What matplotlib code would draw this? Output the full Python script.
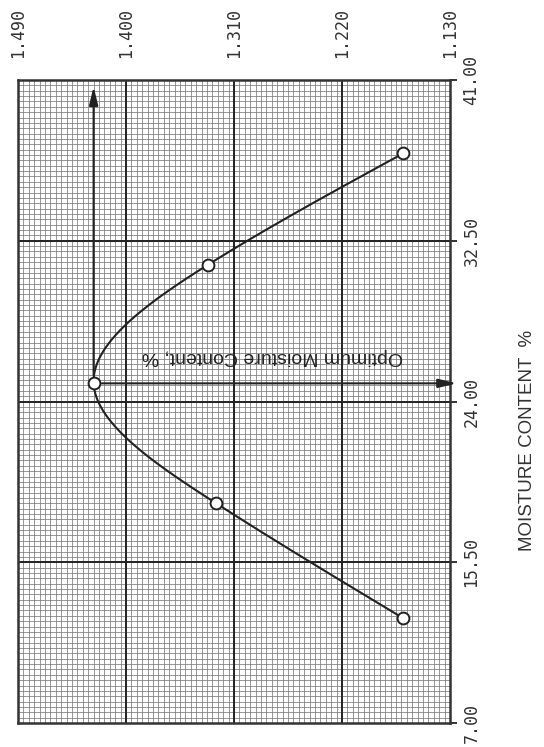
"""
Compaction curve: dry density vs moisture content, drawn in the rotated
layout of the original sheet (moisture running up, density across the top).
"""

import numpy as np
import matplotlib
matplotlib.use("Agg")
import matplotlib.pyplot as plt

# ── Data ──────────────────────────────────────────────────────────────────────

moisture = [12.54, 18.62, 24.96, 31.22, 37.12]      # %
density  = [1.169, 1.325, 1.427, 1.332, 1.169]      # dry density

density_ticks  = [1.490, 1.400, 1.310, 1.220, 1.130]
moisture_ticks = [7.00, 15.50, 24.00, 32.50, 41.00]

optimum_label = "Optimum Moisture Content, %"
axis_label    = "MOISTURE CONTENT  %"


# ── Natural cubic spline through the measured points ─────────────────────────

def natural_spline(x, y, xs):
    x, y = np.asarray(x, float), np.asarray(y, float)
    n = len(x)
    h = np.diff(x)
    A = np.zeros((n, n))
    b = np.zeros(n)
    A[0, 0] = A[-1, -1] = 1.0
    for i in range(1, n - 1):
        A[i, i - 1] = h[i - 1]
        A[i, i]     = 2 * (h[i - 1] + h[i])
        A[i, i + 1] = h[i]
        b[i] = 6 * ((y[i + 1] - y[i]) / h[i] - (y[i] - y[i - 1]) / h[i - 1])
    M = np.linalg.solve(A, b)
    k = np.clip(np.searchsorted(x, xs) - 1, 0, n - 2)
    t0, t1 = x[k + 1] - xs, xs - x[k]
    return (M[k] * t0 ** 3 / (6 * h[k]) + M[k + 1] * t1 ** 3 / (6 * h[k])
            + (y[k] / h[k] - M[k] * h[k] / 6) * t0
            + (y[k + 1] / h[k] - M[k + 1] * h[k] / 6) * t1)


# ── Figure ────────────────────────────────────────────────────────────────────

fig = plt.figure(figsize=(5.44, 7.47), dpi=100)
ax  = fig.add_axes([0.0331, 0.0321, 0.7941, 0.8608])

ax.set_xlim(density_ticks[0], density_ticks[-1])
ax.set_ylim(moisture_ticks[0], moisture_ticks[-1])

# graph-paper grid
minor_x = np.linspace(density_ticks[0], density_ticks[-1], 4 * 20 + 1)
minor_y = np.linspace(moisture_ticks[0], moisture_ticks[-1], 4 * 30 + 1)
for v in minor_x:
    ax.axvline(v, color="#7a7a7a", lw=0.55, zorder=1)
for v in minor_y:
    ax.axhline(v, color="#7a7a7a", lw=0.55, zorder=1)
for v in density_ticks[1:-1]:
    ax.axvline(v, color="#222222", lw=1.4, zorder=2)
for v in moisture_ticks[1:-1]:
    ax.axhline(v, color="#222222", lw=1.4, zorder=2)

for s in ax.spines.values():
    s.set_linewidth(1.8)
    s.set_color("#333333")

# ticks: density along the top, moisture on the right
ax.xaxis.tick_top()
ax.set_xticks(density_ticks)
ax.set_xticklabels([f"{v:.3f}" for v in density_ticks], rotation=90,
                   family="DejaVu Sans Mono", fontsize=12, color="#333333")
ax.tick_params(axis="x", length=0, pad=16)

ax.yaxis.tick_right()
ax.set_yticks(moisture_ticks)
ax.set_yticklabels([f"{v:.2f}" for v in moisture_ticks], rotation=90,
                   va="center", family="DejaVu Sans Mono", fontsize=12,
                   color="#333333")
ax.tick_params(axis="y", length=5, width=1.4, pad=4, color="#333333")

# smooth curve through the points
mm = np.linspace(moisture[0], moisture[-1], 400)
ax.plot(natural_spline(moisture, density, mm), mm, color="#222222", lw=1.5,
        zorder=4)
ax.plot(density, moisture, "o", ms=8.5, mfc="white", mec="#222222",
        mew=1.4, zorder=5)

# optimum arrows
i_opt = int(np.argmax(density))
d_opt, m_opt = density[i_opt], moisture[i_opt]
arrow = dict(arrowstyle="-|>,head_length=0.9,head_width=0.22",
             color="#222222", lw=1.5, mutation_scale=12, shrinkA=6, shrinkB=0)
ax.annotate("", xy=(d_opt, 40.65), xytext=(d_opt, m_opt),
            arrowprops=arrow, zorder=3)
ax.annotate("", xy=(1.1245, m_opt), xytext=(d_opt, m_opt),
            arrowprops=arrow, zorder=3, annotation_clip=False)

ax.text(1.2783, m_opt + 1.4, optimum_label, rotation=180, ha="center",
        va="center", fontsize=14, family="Liberation Sans", color="#222222",
        zorder=6)

fig.text(0.969, 0.411, axis_label, rotation=90, ha="center", va="center",
         fontsize=13.5, family="Liberation Sans", color="#333333")

fig.savefig("out.png", dpi=100)
plt.close(fig)
